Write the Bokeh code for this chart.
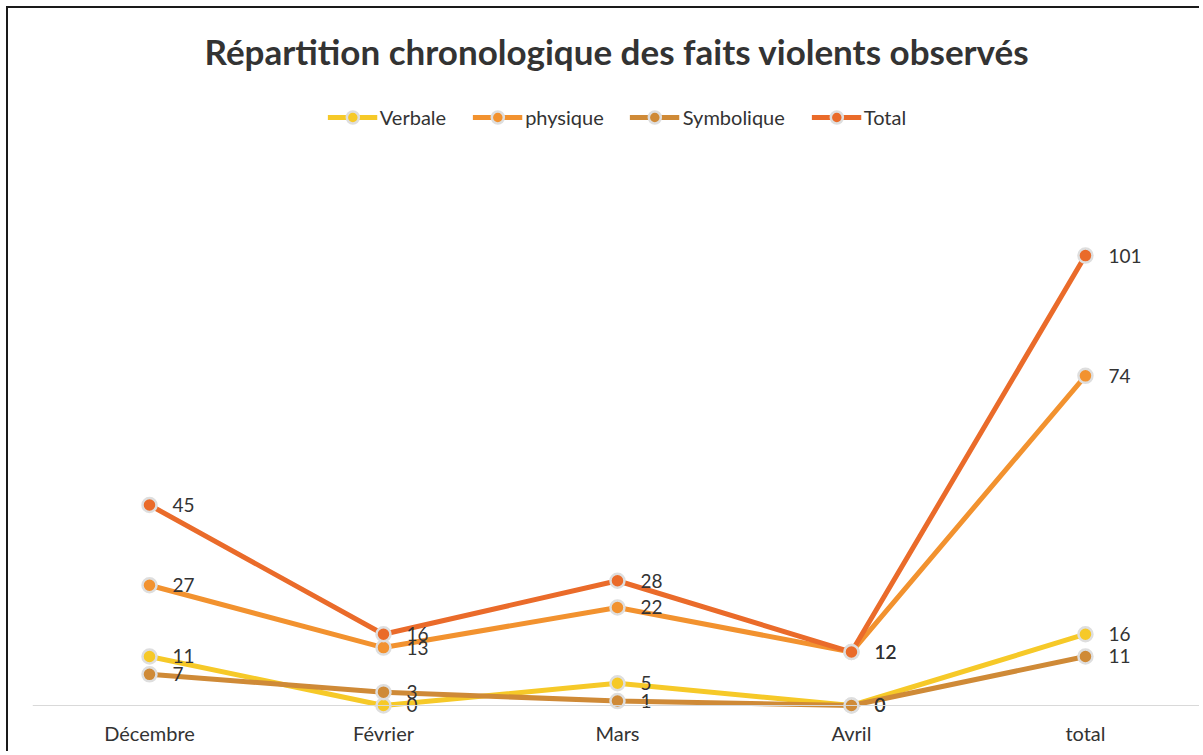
from bokeh.plotting import figure
from bokeh.models import (Range1d, FixedTicker, Span, Legend, LegendItem, Title)
from bokeh.core.properties import value
from bokeh.embed import file_html
from bokeh.resources import INLINE

months = ["Décembre", "Février", "Mars", "Avril", "total"]
series_names = ["Verbale", "physique", "Symbolique", "Total"]
verbale = [11, 0, 5, 0, 16]
physique = [27, 13, 22, 12, 74]
symbolique = [7, 3, 1, 0, 11]
total = [45, 16, 28, 12, 101]
colors = ["#F6C928", "#F2922F", "#CF8A37", "#EA6B2A"]

xs = list(range(len(months)))
FONT = "Lato"
TXT = "#333333"

p = figure(width=1193, height=745, output_backend="svg", toolbar_location=None,
           x_range=Range1d(-0.5, 4.496), y_range=Range1d(-2.47, 140.3),
           min_border_left=24, min_border_right=0, min_border_top=72,
           min_border_bottom=37)
p.styles = {"margin-left": "6px", "margin-top": "6px",
            "border-left": "2px solid #1a1a1a", "border-top": "2px solid #1a1a1a"}
p.outline_line_color = None
p.xgrid.visible = False
p.ygrid.visible = False
p.yaxis.visible = False
p.xaxis.ticker = FixedTicker(ticks=xs)
p.xaxis.major_label_overrides = {i: m for i, m in enumerate(months)}
p.xaxis.axis_line_color = None
p.xaxis.major_tick_line_color = None
p.xaxis.minor_tick_line_color = None
p.xaxis.major_label_text_font = FONT
p.xaxis.major_label_text_font_size = "20px"
p.xaxis.major_label_text_color = TXT
p.xaxis.major_label_standoff = -2

p.add_layout(Span(location=0, dimension="width", line_color="#d9d9d9", line_width=1))

items = []
data = [verbale, physique, symbolique, total]
for name, vals, col in zip(series_names, data, colors):
    lr = p.line(xs, vals, line_color=col, line_width=5)
    sr = p.scatter(xs, vals, size=14, fill_color=col, line_color="#dedede", line_width=2.5)
    items.append(LegendItem(label=name, renderers=[lr, sr]))

for vals in data:
    p.text(xs, vals, text=[str(v) for v in vals], x_offset=23, text_baseline="middle",
           text_align="left", text_font=value(FONT), text_font_size="19px", text_color=TXT)

legend = Legend(items=items, orientation="horizontal", location="top_center",
                glyph_width=50, glyph_height=30, label_standoff=3, spacing=26,
                padding=0, margin=22, border_line_color=None, background_fill_alpha=0,
                label_text_font=FONT, label_text_font_size="20px", label_text_color=TXT)
p.add_layout(legend, "center")

title = Title(text="Répartition chronologique des faits violents observés", align="center",
              text_font=FONT, text_font_size="35px", text_font_style="bold",
              text_color="#333333", standoff=17)
p.add_layout(title, "above")

open("out.html", "w").write(file_html(p, INLINE))
